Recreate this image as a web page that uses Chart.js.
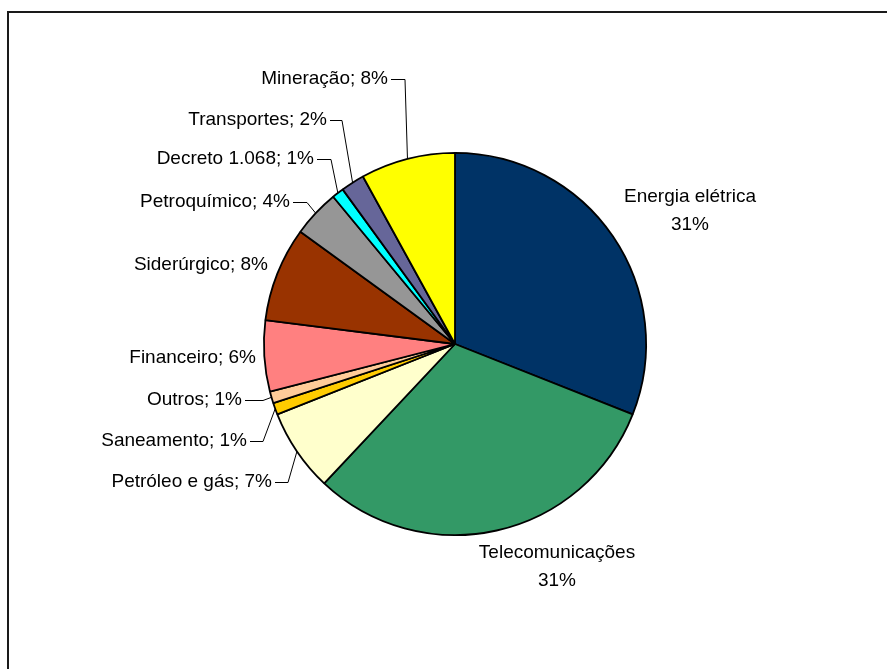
<!DOCTYPE html>
<html>
<head>
<meta charset="utf-8">
<script src="https://cdn.jsdelivr.net/npm/chart.js@4/dist/chart.umd.min.js"></script>
<style>
  body { margin: 0; background: #fff; }
  #box { position: relative; width: 887px; height: 669px; }
</style>
</head>
<body>
<div id="box"><canvas id="pizza" width="887" height="669"></canvas></div>
<script>
// setores e participação (%)
let setores = ['Energia elétrica', 'Telecomunicações', 'Petróleo e gás', 'Saneamento', 'Outros',
               'Financeiro', 'Siderúrgico', 'Petroquímico', 'Decreto 1.068', 'Transportes', 'Mineração'];
let percentuais = [31, 31, 7, 1, 1, 6, 8, 4, 1, 2, 8];
let cores = ['#003366', '#339966', '#FFFFCC', '#FFCC00', '#FFCC99',
             '#FF8080', '#993300', '#969696', '#00FFFF', '#666699', '#FFFF00'];

// onde cada rótulo fica: tipo 'centro' = duas linhas centradas, 'dir' = alinhado à direita
// linha = desenha o traço até a fatia
let rotulos = [
    {tipo: 'centro', x: 690, y: 197},
    {tipo: 'centro', x: 557, y: 553},
    {tipo: 'dir', x: 272, y: 482, linha: 13},
    {tipo: 'dir', x: 247, y: 441, linha: 13},
    {tipo: 'dir', x: 242, y: 400, linha: 18},
    {tipo: 'dir', x: 256, y: 358},
    {tipo: 'dir', x: 268, y: 265},
    {tipo: 'dir', x: 290, y: 202, linha: 14},
    {tipo: 'dir', x: 314, y: 159, linha: 14},
    {tipo: 'dir', x: 327, y: 120, linha: 12},
    {tipo: 'dir', x: 388, y: 79, linha: 14}
];

let fonte = '19px "Liberation Sans", Arial, sans-serif';

// moldura (borda superior e esquerda)
let moldura = {
    id: 'moldura',
    beforeDraw(chart) {
        let c = chart.ctx;
        c.save();
        c.strokeStyle = '#1a1a1a';
        c.lineWidth = 2;
        c.beginPath();
        c.moveTo(8, 669);
        c.lineTo(8, 12);
        c.lineTo(887, 12);
        c.stroke();
        c.restore();
    }
};

// rótulos com linhas de chamada
let etiquetas = {
    id: 'etiquetas',
    afterDatasetsDraw(chart) {
        let c = chart.ctx;
        let arcos = chart.getDatasetMeta(0).data;
        c.save();
        c.font = fonte;
        c.fillStyle = '#000';
        c.textBaseline = 'middle';
        arcos.forEach(function(arco, i) {
            let r = rotulos[i];
            let p = arco.getProps(['x', 'y', 'startAngle', 'endAngle', 'outerRadius'], true);
            if (r.tipo == 'centro') {
                c.textAlign = 'center';
                c.fillText(setores[i], r.x, r.y);
                c.fillText(percentuais[i] + '%', r.x, r.y + 28);
            } else {
                c.textAlign = 'right';
                c.fillText(setores[i] + '; ' + percentuais[i] + '%', r.x, r.y);
                if (r.linha) {
                    let meio = (p.startAngle + p.endAngle) / 2;
                    let bx = p.x + Math.cos(meio) * p.outerRadius;
                    let by = p.y + Math.sin(meio) * p.outerRadius;
                    c.strokeStyle = '#000';
                    c.lineWidth = 1;
                    c.beginPath();
                    c.moveTo(r.x + 3, r.y + 0.5);
                    c.lineTo(r.x + 3 + r.linha, r.y + 0.5);
                    c.lineTo(bx, by);
                    c.stroke();
                }
            }
        });
        c.restore();
    }
};

let grafico = new Chart(document.getElementById('pizza'), {
    type: 'pie',
    data: {
        labels: setores,
        datasets: [{
            data: percentuais,
            backgroundColor: cores,
            borderColor: '#000',
            borderWidth: 1.8
        }]
    },
    options: {
        responsive: false,
        animation: false,
        layout: {
            padding: {left: 263, right: 240, top: 152, bottom: 133}
        },
        plugins: {
            legend: {display: false},
            tooltip: {enabled: false}
        }
    },
    plugins: [moldura, etiquetas]
});
</script>
</body>
</html>
